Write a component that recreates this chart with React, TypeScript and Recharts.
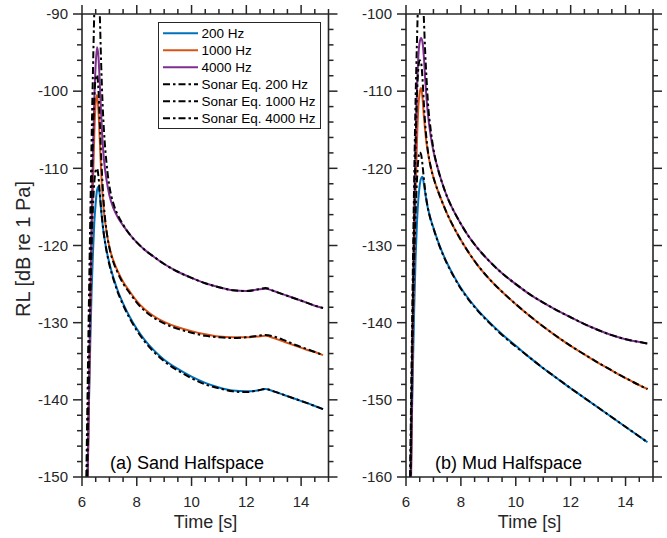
import React from 'react';
import { LineChart, Line, XAxis, YAxis } from 'recharts';

// ---------- data ----------
const time = [6.15, 6.2, 6.25, 6.3, 6.35, 6.4, 6.45, 6.5, 6.55, 6.6, 6.65, 6.7, 6.75, 6.8, 6.9, 7.0, 7.15, 7.3, 7.5, 7.75, 8.0, 8.3, 8.6, 9.0, 9.5, 10, 10.5, 11, 11.5, 12, 12.4, 12.7, 13.0, 13.4, 13.8, 14.2, 14.5, 14.8];

const sandBlue = [-160, -150, -141, -133, -126, -121, -117, -114.5, -112.8, -112.4, -113.5, -115.5, -117.2, -118.6, -120.7, -122.3, -124.2, -125.8, -127.5, -129.3, -130.8, -132.3, -133.5, -134.8, -136.0, -137.0, -137.8, -138.4, -138.8, -138.9, -138.8, -138.6, -138.9, -139.4, -139.9, -140.4, -140.8, -141.2];
const sandOrange = [-165, -152, -141, -130, -120, -112, -105.5, -101.5, -100.5, -102.5, -106.5, -110.5, -113.5, -115.6, -118.3, -120.2, -122.0, -123.3, -124.7, -126.0, -127.2, -128.3, -129.1, -129.9, -130.6, -131.1, -131.5, -131.8, -131.9, -131.9, -131.8, -131.7, -132.0, -132.5, -133.0, -133.5, -133.8, -134.2];
const sandPurple = [-165, -152, -140, -128, -117, -108, -101, -96.5, -94.3, -95.5, -99, -103, -106.5, -108.8, -111.6, -113.5, -115.2, -116.3, -117.4, -118.6, -119.6, -120.6, -121.4, -122.4, -123.4, -124.2, -124.9, -125.4, -125.8, -125.9, -125.7, -125.6, -125.9, -126.4, -126.9, -127.4, -127.8, -128.1];
const sandSonar200 = [-158, -147, -137, -128, -120.5, -115, -111.8, -110.3, -110, -111, -113.2, -115.3, -117.1, -118.6, -120.8, -122.5, -124.4, -126.0, -127.7, -129.5, -131.0, -132.5, -133.7, -135.0, -136.2, -137.2, -138.0, -138.5, -138.9, -139.0, -138.8, -138.6, -138.9, -139.4, -139.9, -140.4, -140.8, -141.2];
const sandSonar1000 = [-160, -146, -134, -123, -113.5, -106, -100.8, -98.3, -97.9, -99.8, -104, -108.5, -112, -114.8, -118.2, -120.3, -122.2, -123.5, -124.9, -126.2, -127.4, -128.5, -129.3, -130.1, -130.8, -131.3, -131.7, -131.9, -132.0, -131.9, -131.7, -131.6, -131.8, -132.3, -132.9, -133.4, -133.8, -134.2];
const sandSonar4000 = [-152, -140, -128, -117, -106.5, -97.5, -89.5, -83.5, -81, -84, -90, -96.5, -101.5, -105, -109.5, -112.3, -114.6, -116.0, -117.3, -118.6, -119.6, -120.6, -121.4, -122.4, -123.4, -124.2, -124.9, -125.4, -125.8, -125.9, -125.7, -125.5, -125.9, -126.4, -126.9, -127.4, -127.8, -128.1];

const mudBlue = [-165, -155, -146, -138, -131.5, -127, -124, -122.2, -121.3, -121.1, -122, -123.2, -124.3, -125.2, -126.6, -127.7, -129.3, -130.7, -132.3, -134.0, -135.5, -137.0, -138.3, -139.8, -141.5, -143.0, -144.5, -145.9, -147.2, -148.5, -149.5, -150.25, -151.0, -152.0, -153.0, -154.0, -154.75, -155.5];
const mudOrange = [-170, -155, -142, -132, -123, -116.5, -112, -110.2, -109.6, -110.8, -113.2, -115.2, -116.8, -118, -119.8, -121.2, -122.8, -124.2, -125.9, -127.7, -129.3, -131.0, -132.5, -134.2, -136.0, -137.6, -139.1, -140.5, -141.8, -143.0, -143.9, -144.55, -145.2, -146.0, -146.8, -147.55, -148.1, -148.6];
const mudPurple = [-170, -155, -140, -127, -117, -110, -105.5, -103.6, -103.1, -103.6, -105.5, -108.5, -111, -113, -115.8, -117.8, -119.9, -121.7, -123.7, -125.6, -127.2, -128.9, -130.3, -131.9, -133.6, -135.0, -136.3, -137.4, -138.4, -139.3, -140.0, -140.5, -140.95, -141.5, -141.95, -142.3, -142.5, -142.7];
const mudSonar200 = [-162, -150, -140, -132, -126, -121.5, -118.8, -117.9, -118.2, -119.5, -121.3, -122.9, -124.2, -125.2, -126.7, -127.8, -129.4, -130.8, -132.4, -134.1, -135.6, -137.1, -138.4, -139.9, -141.6, -143.1, -144.5, -145.9, -147.2, -148.5, -149.5, -150.25, -151.0, -152.0, -153.0, -154.0, -154.75, -155.5];
const mudSonar1000 = [-165, -150, -137, -126, -117, -110.5, -107, -106, -106.3, -108.3, -111.5, -114.3, -116.3, -117.8, -119.8, -121.2, -122.8, -124.2, -125.9, -127.7, -129.3, -131.0, -132.5, -134.2, -136.0, -137.6, -139.1, -140.5, -141.8, -143.0, -143.9, -144.55, -145.2, -146.0, -146.8, -147.55, -148.1, -148.6];
const mudSonar4000 = [-160, -146, -133, -121, -111, -103.5, -97.5, -95, -94, -96, -100.5, -105, -108.5, -111.5, -115, -117.5, -119.9, -121.7, -123.7, -125.6, -127.2, -128.9, -130.3, -131.9, -133.6, -135.0, -136.3, -137.4, -138.4, -139.3, -140.0, -140.5, -140.95, -141.5, -141.95, -142.3, -142.5, -142.7];

const xMajor = [6, 8, 10, 12, 14];
const sandYMajor = [-150, -140, -130, -120, -110, -100, -90];
const mudYMajor = [-160, -150, -140, -130, -120, -110, -100];

const seriesNames = ['200 Hz', '1000 Hz', '4000 Hz', 'Sonar Eq. 200 Hz', 'Sonar Eq. 1000 Hz', 'Sonar Eq. 4000 Hz'];

// ---------- styles ----------
const AX = '#262626';
const FONT = '"Liberation Sans", Arial, Helvetica, sans-serif';
const COLORS = ['#0072BD', '#D95319', '#7E2F8E'];
const DASH = '7 3 2.5 3';

const xTicks: number[] = [];
for (let v = 6; v <= 15.001; v += 0.5) xTicks.push(Math.round(v * 10) / 10);
const makeYTicks = (lo: number, hi: number) => {
  const a: number[] = [];
  for (let v = lo; v <= hi; v += 2) a.push(v);
  return a;
};

const buildRows = (s: number[][]) =>
  time.map((t, i) => ({ t, b: s[0][i], o: s[1][i], p: s[2][i], sb: s[3][i], so: s[4][i], sp: s[5][i] }));

const sandRows = buildRows([sandBlue, sandOrange, sandPurple, sandSonar200, sandSonar1000, sandSonar4000]);
const mudRows = buildRows([mudBlue, mudOrange, mudPurple, mudSonar200, mudSonar1000, mudSonar4000]);

const MAJ = 9;
const MIN = 5;
const TW = 1.5;

const makeTick = (orient: 'bottom' | 'top' | 'left' | 'right', majors: number[]) => (props: any) => {
  const { x, y, payload } = props;
  const v = payload.value;
  const major = majors.includes(v);
  const len = major ? MAJ : MIN;
  if (orient === 'bottom') {
    return (
      <g>
        <line x1={x} y1={y} x2={x} y2={y + len} stroke={AX} strokeWidth={TW} />
        {major && (
          <text x={x} y={y + 30} textAnchor="middle" fontSize={15} fill={AX} fontFamily={FONT}>
            {String(v)}
          </text>
        )}
      </g>
    );
  }
  if (orient === 'top') {
    return <line x1={x} y1={y} x2={x} y2={y - len} stroke={AX} strokeWidth={TW} />;
  }
  if (orient === 'left') {
    return (
      <g>
        <line x1={x} y1={y} x2={x - len} y2={y} stroke={AX} strokeWidth={TW} />
        {major && (
          <text x={x - 14} y={y + 5.3} textAnchor="end" fontSize={15} fill={AX} fontFamily={FONT}>
            {String(v)}
          </text>
        )}
      </g>
    );
  }
  return <line x1={x} y1={y} x2={x + len} y2={y} stroke={AX} strokeWidth={TW} />;
};

type PanelProps = {
  rows: any[];
  yDomain: [number, number];
  yMajor: number[];
  width: number;
  yAxisWidth: number;
  marginRight: number;
};

function Panel({ rows, yDomain, yMajor, width, yAxisWidth, marginRight }: PanelProps) {
  const yTicks = makeYTicks(yDomain[0], yDomain[1]);
  const axisLine = { stroke: AX, strokeWidth: 1.6 };
  return (
    <LineChart width={width} height={538} data={rows} margin={{ top: 4, right: marginRight, bottom: 31, left: 0 }}>
      <XAxis
        xAxisId="b"
        dataKey="t"
        type="number"
        domain={[6, 15]}
        allowDataOverflow
        ticks={xTicks}
        interval={0}
        tickSize={0}
        tickMargin={0}
        tickLine={false}
        axisLine={axisLine}
        height={30}
        tick={makeTick('bottom', xMajor)}
      />
      <XAxis
        xAxisId="t"
        orientation="top"
        dataKey="t"
        type="number"
        domain={[6, 15]}
        allowDataOverflow
        ticks={xTicks}
        interval={0}
        tickSize={0}
        tickMargin={0}
        tickLine={false}
        axisLine={axisLine}
        height={10}
        tick={makeTick('top', xMajor)}
      />
      <YAxis
        yAxisId="l"
        type="number"
        domain={yDomain}
        allowDataOverflow
        ticks={yTicks}
        interval={0}
        tickSize={0}
        tickMargin={0}
        tickLine={false}
        axisLine={axisLine}
        width={yAxisWidth}
        tick={makeTick('left', yMajor)}
      />
      <YAxis
        yAxisId="r"
        orientation="right"
        type="number"
        domain={yDomain}
        allowDataOverflow
        ticks={yTicks}
        interval={0}
        tickSize={0}
        tickMargin={0}
        tickLine={false}
        axisLine={axisLine}
        width={10}
        tick={makeTick('right', yMajor)}
      />
      {(['b', 'o', 'p'] as const).map((k, i) => (
        <Line
          key={k}
          xAxisId="b"
          yAxisId="l"
          type="monotone"
          dataKey={k}
          stroke={COLORS[i]}
          strokeWidth={2}
          dot={false}
          activeDot={false}
          isAnimationActive={false}
        />
      ))}
      {(['sb', 'so', 'sp'] as const).map((k) => (
        <Line
          key={k}
          xAxisId="b"
          yAxisId="l"
          type="monotone"
          dataKey={k}
          stroke="#000"
          strokeWidth={2}
          strokeDasharray={DASH}
          dot={false}
          activeDot={false}
          isAnimationActive={false}
        />
      ))}
    </LineChart>
  );
}

function Overlay() {
  const legendTop = 22.5;
  const rowY = [33.3, 50.3, 67.3, 84.3, 101.3, 118.3];
  return (
    <svg width={667} height={538} style={{ position: 'absolute', left: 0, top: 0, pointerEvents: 'none' }}>
      <g>
        <rect x={158.5} y={legendTop} width={162} height={106} fill="#fff" stroke={AX} strokeWidth={1} />
        {seriesNames.map((n, i) => (
          <g key={n}>
            <line
              x1={163}
              x2={198}
              y1={rowY[i]}
              y2={rowY[i]}
              stroke={i < 3 ? COLORS[i] : '#000'}
              strokeWidth={2}
              strokeDasharray={i < 3 ? undefined : DASH}
            />
            <text x={201.5} y={rowY[i] + 4.8} fontSize={13.5} fill="#000" fontFamily={FONT}>
              {n}
            </text>
          </g>
        ))}
      </g>
      <text x={110} y={469} fontSize={18} fill="#000" fontFamily={FONT}>(a) Sand Halfspace</text>
      <text x={435} y={469} fontSize={18} fill="#000" fontFamily={FONT}>(b) Mud Halfspace</text>
      <text x={205.5} y={528} fontSize={18} fill={AX} fontFamily={FONT} textAnchor="middle">Time [s]</text>
      <text x={529.5} y={528} fontSize={18} fill={AX} fontFamily={FONT} textAnchor="middle">Time [s]</text>
      <text transform="translate(29.5,249) rotate(-90)" fontSize={20} fill={AX} fontFamily={FONT} textAnchor="middle">
        RL [dB re 1 Pa]
      </text>
    </svg>
  );
}

export default function App() {
  return (
    <div style={{ position: 'absolute', left: 0, top: 0, width: 667, height: 538, background: '#fff', fontFamily: FONT }}>
      <div style={{ position: 'absolute', left: 0, top: 0 }}>
        <Panel rows={sandRows} yDomain={[-150, -90]} yMajor={sandYMajor} width={340} yAxisWidth={82} marginRight={1.5} />
      </div>
      <div style={{ position: 'absolute', left: 334, top: 0 }}>
        <Panel rows={mudRows} yDomain={[-160, -100]} yMajor={mudYMajor} width={333} yAxisWidth={72} marginRight={4} />
      </div>
      <Overlay />
    </div>
  );
}
